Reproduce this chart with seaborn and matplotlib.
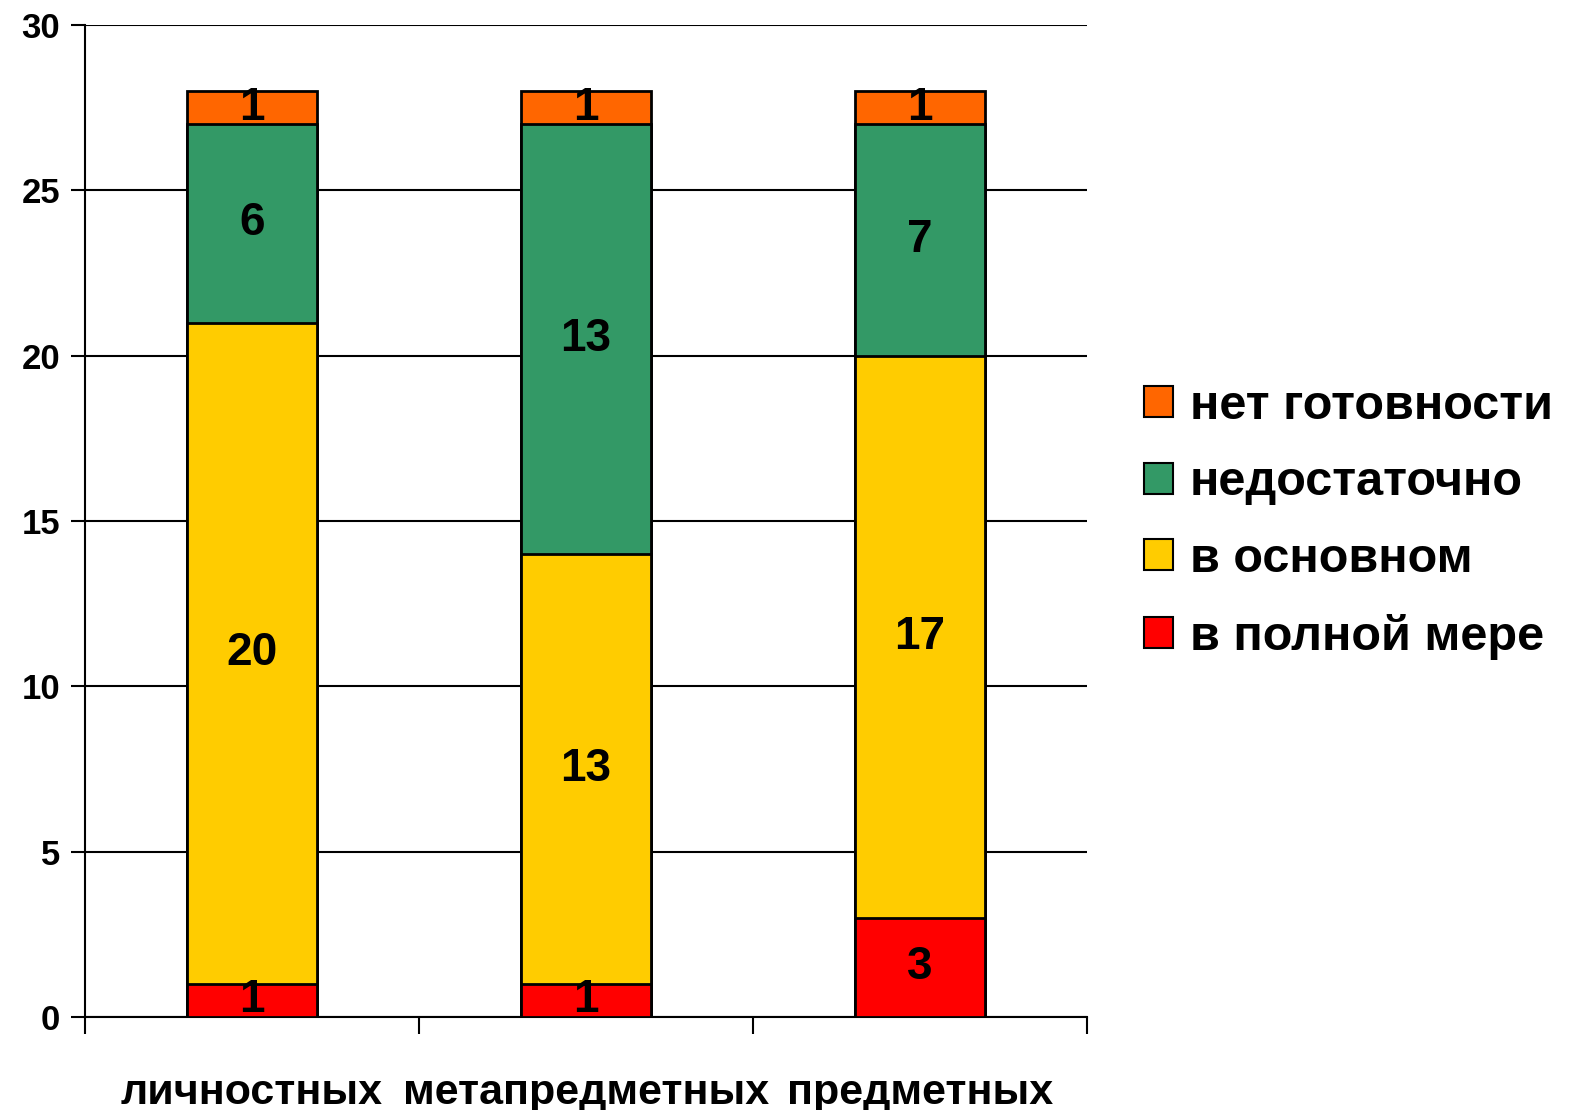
import numpy as np
import pandas as pd
import seaborn as sns
import matplotlib.pyplot as plt
from matplotlib.patches import Patch

# данные
categories = ['личностных', 'метапредметных', 'предметных']
levels = ['в полной мере', 'в основном', 'недостаточно', 'нет готовности']
v_full = [1, 1, 3]
v_main = [20, 13, 17]
v_low = [6, 13, 7]
v_none = [1, 1, 1]
colors = ['#FF0000', '#FFCC00', '#339966', '#FF6600']

sns.set_theme(style='white')
plt.rcParams['font.family'] = ['Liberation Sans', 'DejaVu Sans']
plt.rcParams['font.weight'] = 'bold'
plt.rcParams['text.color'] = 'black'
plt.rcParams['xtick.color'] = 'black'
plt.rcParams['ytick.color'] = 'black'

values = np.array([v_full, v_main, v_low, v_none], dtype=float)
cum = values.cumsum(axis=0)

fig = plt.figure(figsize=(15.83, 11.10), dpi=100)
ax = fig.add_axes([0.0537, 0.0838, 0.633, 0.8937])

# стопка: рисуем накопленные суммы сверху вниз
for i in range(len(levels) - 1, -1, -1):
    df = pd.DataFrame({'cat': categories, 'val': cum[i]})
    sns.barplot(data=df, x='cat', y='val', color=colors[i], width=0.39,
                edgecolor='black', linewidth=2, saturation=1, ax=ax, zorder=3 + (4 - i))

# подписи значений
for i in range(len(levels)):
    for j in range(len(categories)):
        mid = cum[i, j] - values[i, j] / 2
        ax.text(j, mid, f'{int(values[i, j])}', ha='center', va='center',
                fontsize=33, fontweight='bold', color='black', zorder=20)

ax.set_xlim(-0.5, 2.5)
ax.set_ylim(0, 30)
ax.set_yticks(range(0, 31, 5))
ax.yaxis.grid(True, color='black', linewidth=1.5, zorder=0)
ax.set_axisbelow(True)
ax.set_xlabel('')
ax.set_ylabel('')
for s in ['top', 'right']:
    ax.spines[s].set_visible(False)
for s in ['left', 'bottom']:
    ax.spines[s].set_color('black')
    ax.spines[s].set_linewidth(1.5)

ax.tick_params(axis='y', left=True, length=10, width=1.5, labelsize=25, pad=8)
ax.tick_params(axis='x', which='major', length=0, labelsize=31, pad=40)
ax.set_xticks([-0.5, 0.5, 1.5, 2.5], minor=True)
ax.tick_params(axis='x', which='minor', bottom=True, length=12, width=1.5, direction='out')
for lbl in ax.get_xticklabels() + ax.get_yticklabels():
    lbl.set_fontweight('bold')

handles = [Patch(facecolor=colors[i], edgecolor='black', linewidth=1.5, label=levels[i])
           for i in range(len(levels) - 1, -1, -1)]
fig.legend(handles=handles, loc='center left', bbox_to_anchor=(0.695, 0.53),
           frameon=False, prop={'size': 35, 'weight': 'bold'},
           handlelength=0.6, handleheight=0.6, handletextpad=0.35, labelspacing=0.65)

plt.savefig('out.png', dpi=100)
